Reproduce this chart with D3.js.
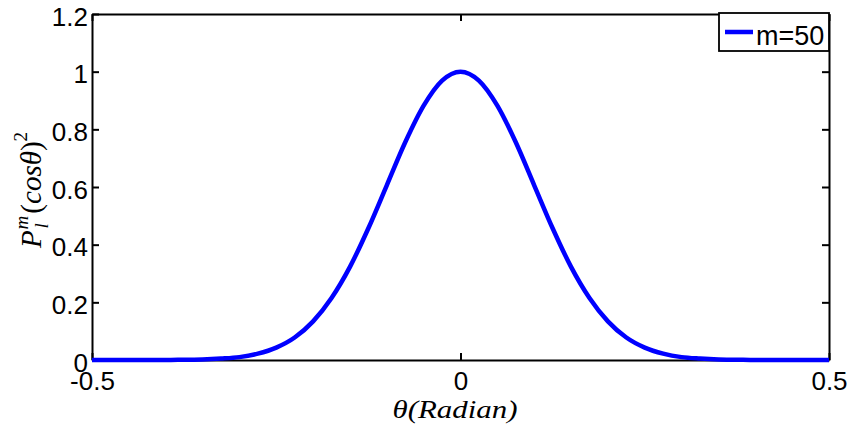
<!DOCTYPE html>
<html>
<head>
<meta charset="utf-8">
<script src="https://cdn.jsdelivr.net/npm/d3@7"></script>
<style>
  html, body { margin: 0; padding: 0; background: #fff; }
  svg { display: block; }
  .tick-label { font-family: "Liberation Sans", Arial, sans-serif; font-size: 26px; fill: #000; }
  .math { font-family: "Liberation Serif", "DejaVu Serif", serif; font-style: italic; fill: #000; }
</style>
</head>
<body>
<svg id="chart" width="854" height="431"></svg>
<script>
// Angle samples (radians) and squared associated Legendre values, m = 50
const theta = [
  -0.500, -0.475, -0.450, -0.425, -0.400, -0.375, -0.350, -0.325, -0.300, -0.275,
  -0.250, -0.225, -0.200, -0.175, -0.150, -0.125, -0.100, -0.075, -0.050, -0.025,
   0.000,
   0.025,  0.050,  0.075,  0.100,  0.125,  0.150,  0.175,  0.200,  0.225,  0.250,
   0.275,  0.300,  0.325,  0.350,  0.375,  0.400,  0.425,  0.450,  0.475,  0.500
];
const pm50 = [
  0.000, 0.000, 0.000, 0.000, 0.000, 0.001, 0.002, 0.005, 0.010, 0.022,
  0.043, 0.078, 0.134, 0.215, 0.323, 0.457, 0.606, 0.755, 0.882, 0.969,
  1.000,
  0.969, 0.882, 0.755, 0.606, 0.457, 0.323, 0.215, 0.134, 0.078, 0.043,
  0.022, 0.010, 0.005, 0.002, 0.001, 0.000, 0.000, 0.000, 0.000, 0.000
];
const xTicks = [-0.5, 0, 0.5];
const yTicks = [0, 0.2, 0.4, 0.6, 0.8, 1, 1.2];
const seriesName = "m=50";

const svg = d3.select("#chart");
const plotLeft = 92, plotRight = 829, plotTop = 14, plotBottom = 360;

const x = d3.scaleLinear().domain([-0.5, 0.5]).range([plotLeft, plotRight]);
const y = d3.scaleLinear().domain([0, 1.2]).range([plotBottom, plotTop]);

const tickLen = 7;
const fmt = d => (d === 0 ? "0" : String(d));

// Axes: bottom/left with labels, top/right mirrored ticks only (inward)
const gBottom = svg.append("g").attr("transform", `translate(0,${plotBottom})`)
  .call(d3.axisBottom(x).tickValues(xTicks).tickSizeInner(-tickLen).tickSizeOuter(0).tickFormat(fmt));
const gTop = svg.append("g").attr("transform", `translate(0,${plotTop})`)
  .call(d3.axisTop(x).tickValues(xTicks).tickSizeInner(-tickLen).tickSizeOuter(0).tickFormat(""));
const gLeft = svg.append("g").attr("transform", `translate(${plotLeft},0)`)
  .call(d3.axisLeft(y).tickValues(yTicks).tickSizeInner(-tickLen).tickSizeOuter(0).tickFormat(fmt));
const gRight = svg.append("g").attr("transform", `translate(${plotRight},0)`)
  .call(d3.axisRight(y).tickValues(yTicks).tickSizeInner(-tickLen).tickSizeOuter(0).tickFormat(""));

[gBottom, gTop, gLeft, gRight].forEach(g => {
  g.select(".domain").attr("stroke", "#000").attr("stroke-width", 2);
  g.selectAll(".tick line").attr("stroke", "#000").attr("stroke-width", 2);
  g.selectAll(".tick text").attr("class", "tick-label").attr("fill", "#000");
});
gBottom.selectAll(".tick text").attr("y", 0).attr("dy", null)
  .attr("transform", "translate(0,30)");
gLeft.selectAll(".tick text").attr("x", -4).attr("dy", null).attr("transform", "translate(0,11)");

// Curve
const line = d3.line()
  .x((d, i) => x(theta[i]))
  .y(d => y(d))
  .curve(d3.curveMonotoneX);

svg.append("path")
  .datum(pm50)
  .attr("fill", "none")
  .attr("stroke", "#0000ff")
  .attr("stroke-width", 4.5)
  .attr("stroke-linejoin", "round")
  .attr("d", line);

// Legend
const lg = svg.append("g");
lg.append("rect").attr("x", 719).attr("y", 13).attr("width", 110).attr("height", 38)
  .attr("fill", "#fff").attr("stroke", "#000").attr("stroke-width", 1.8);
lg.append("line").attr("x1", 725).attr("x2", 753).attr("y1", 32).attr("y2", 32)
  .attr("stroke", "#0000ff").attr("stroke-width", 4.5);
lg.append("text").attr("class", "tick-label").attr("x", 756).attr("y", 45)
  .style("font-size", "27px").text(seriesName);

// X axis title
svg.append("text").attr("class", "math")
  .attr("x", 455).attr("y", 418).attr("text-anchor", "middle")
  .style("font-size", "25px")
  .attr("textLength", 125).attr("lengthAdjust", "spacingAndGlyphs")
  .text("θ(Radian)");

// Y axis title: P_l^m(cosθ)^2, laid out piece by piece then centred
const yl = svg.append("g").attr("transform", "translate(41,190) rotate(-90)");
const pieces = [];
let cx = 0;
function piece(txt, size, dy, italic, advance = true) {
  const t = yl.append("text").attr("class", "math").attr("x", cx).attr("y", dy)
    .style("font-size", size + "px").style("font-style", italic ? "italic" : "normal").text(txt);
  const w = t.node().getComputedTextLength();
  pieces.push(t);
  if (advance) cx += w;
  return w;
}
piece("P", 29, 0, true);
const subStart = cx + 1;
cx = subStart;
const wm = piece("m", 19, -13, true, false);
cx = subStart + 1;
const wl = piece("l", 19, 7, true, false);
cx = subStart + Math.max(wm, wl) + 2;
piece("(", 29, 0, false);
piece("cosθ", 29, 0, true);
piece(")", 29, 0, false);
piece("2", 19, -14, false);
const total = cx;
pieces.forEach(t => t.attr("x", +t.attr("x") - total / 2));
</script>
</body>
</html>
